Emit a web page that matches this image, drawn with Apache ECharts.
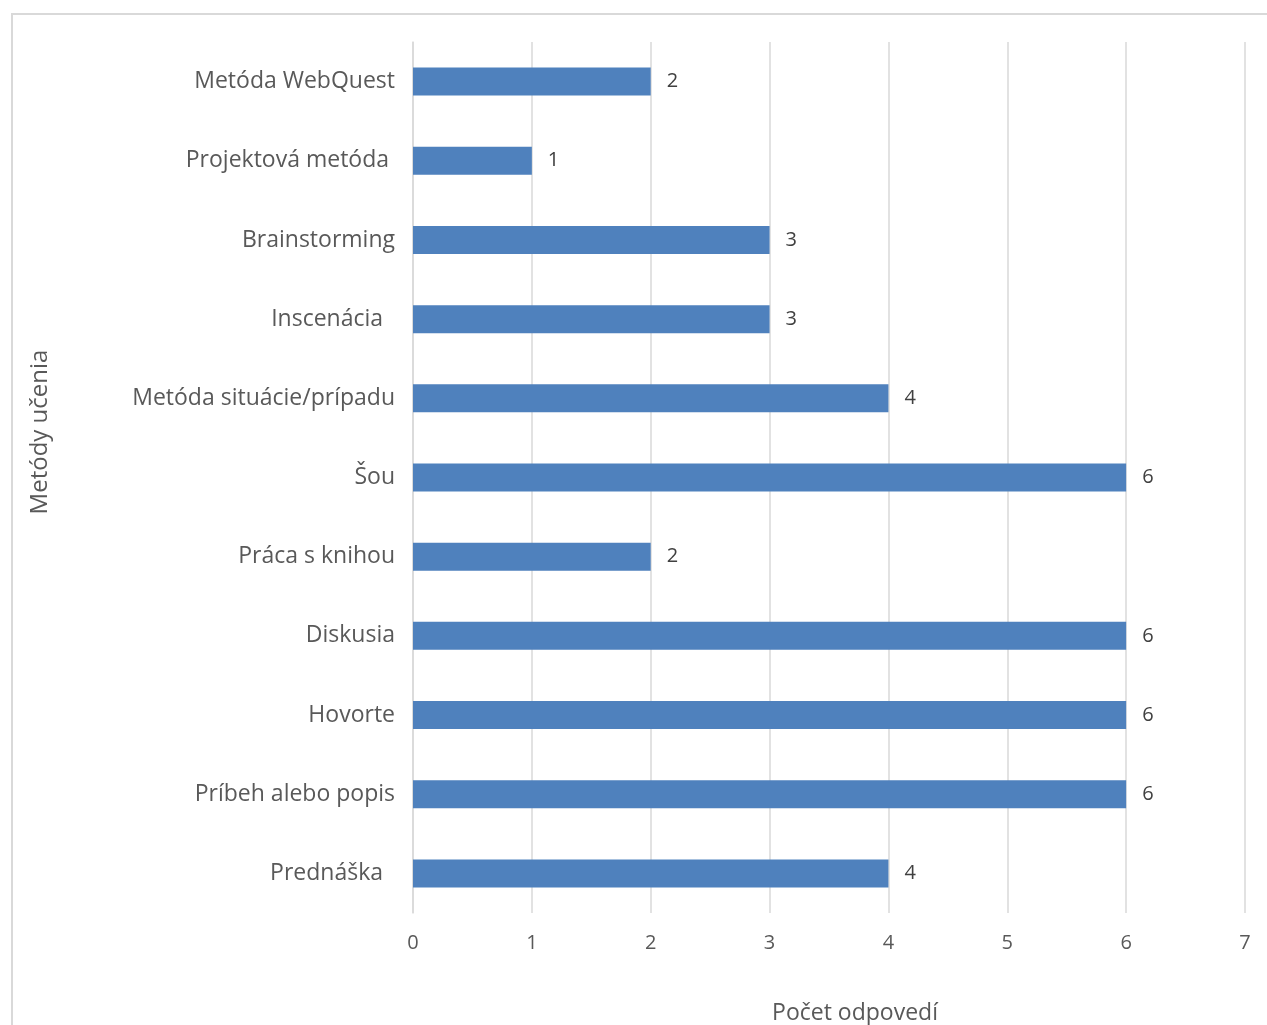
<!DOCTYPE html>
<html>
<head>
<meta charset="utf-8">
<script src="https://cdn.jsdelivr.net/npm/echarts@6/dist/echarts.min.js"></script>
<style>
html,body{margin:0;padding:0;background:#fff;}
#chart{width:1267px;height:1025px;}
</style>
</head>
<body>
<div id="chart"></div>
<script>
// Categories listed bottom-to-top (ECharts category y-axis starts at bottom)
const categories = ["Prednáška  ", "Príbeh alebo popis", "Hovorte", "Diskusia", "Práca s knihou", "Šou", "Metóda situácie/prípadu", "Inscenácia  ", "Brainstorming", "Projektová metóda ", "Metóda WebQuest"];
const values = [4, 6, 6, 6, 2, 6, 4, 3, 3, 1, 2];
const xTicks = [0, 1, 2, 3, 4, 5, 6, 7];
const xAxisTitle = "Počet odpovedí";
const yAxisTitle = "Metódy učenia";

const chart = echarts.init(document.getElementById('chart'));
const FONT = '"Open Sans", "Noto Sans", sans-serif';
chart.setOption({
  animation: false,
  backgroundColor: '#ffffff',
  textStyle: { fontFamily: FONT },
  grid: { left: 413, right: 22, top: 42, bottom: 112, containLabel: false },
  xAxis: {
    type: 'value',
    min: xTicks[0],
    max: xTicks[xTicks.length - 1],
    interval: 1,
    axisLine: { show: false },
    axisTick: { show: false },
    splitLine: { show: true, lineStyle: { color: '#d9d9d9', width: 1.5 } },
    axisLabel: { color: '#595959', fontSize: 20, fontFamily: FONT, margin: 20 }
  },
  yAxis: {
    type: 'category',
    data: categories,
    axisLine: { show: true, lineStyle: { color: '#d9d9d9', width: 1.5 } },
    axisTick: { show: false },
    axisLabel: { color: '#595959', fontSize: 23, fontFamily: FONT, margin: 18 }
  },
  series: [{
    type: 'bar',
    data: values,
    barWidth: 28,
    itemStyle: { color: '#4f81bd' },
    label: {
      show: true,
      position: 'right',
      distance: 16,
      color: '#404040',
      fontSize: 20,
      fontFamily: FONT
    }
  }],
  graphic: [
    {
      type: 'rect',
      shape: { x: 12, y: 14, width: 1400, height: 1200 },
      style: { fill: 'none', stroke: '#d9d9d9', lineWidth: 2 },
      silent: true
    },
    {
      type: 'text',
      x: 855, y: 1013,
      style: { text: xAxisTitle, fill: '#595959', font: '23px ' + FONT, textAlign: 'center', textVerticalAlign: 'middle' }
    },
    {
      type: 'text',
      x: 40, y: 432,
      rotation: Math.PI / 2,
      style: { text: yAxisTitle, fill: '#595959', font: '24px ' + FONT, textAlign: 'center', textVerticalAlign: 'middle' }
    }
  ]
});
</script>
</body>
</html>
